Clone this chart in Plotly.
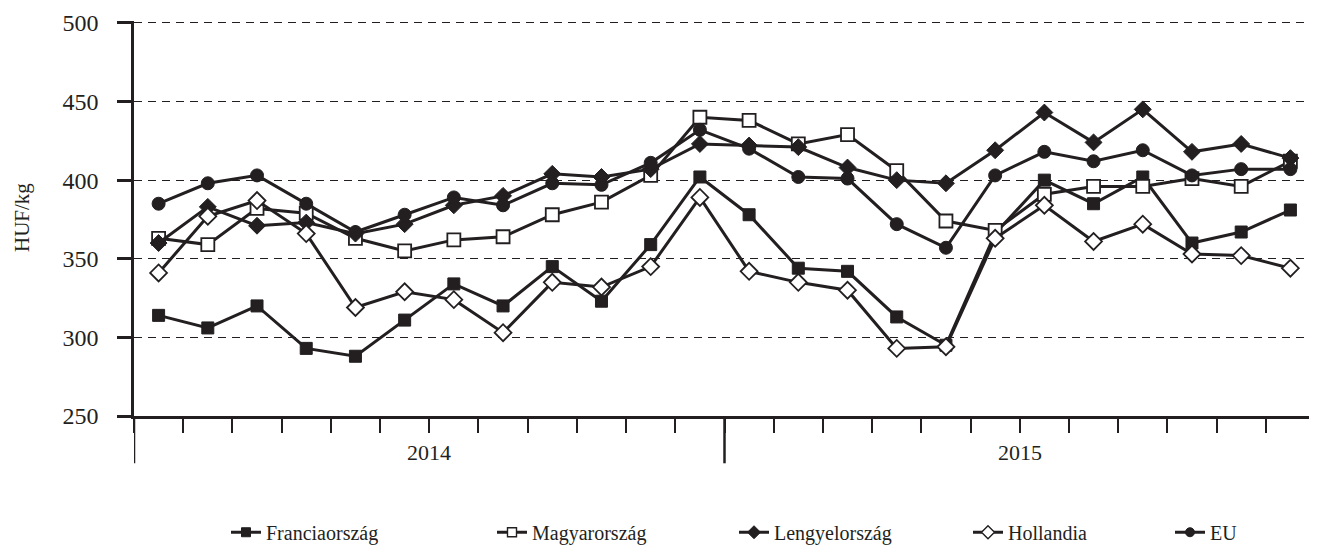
import plotly.graph_objects as go

# ---------------- data ----------------
months = [f"2014-{m:02d}" for m in range(1, 13)] + [f"2015-{m:02d}" for m in range(1, 13)]
years = ["2014", "2015"]

francia = [314, 306, 320, 293, 288, 311, 334, 320, 345, 323, 359, 402,
           378, 344, 342, 313, 295, 366, 400, 385, 402, 360, 367, 381]
magyar = [363, 359, 382, 379, 363, 355, 362, 364, 378, 386, 403, 440,
          438, 423, 429, 406, 374, 368, 391, 396, 396, 401, 396, 412]
lengyel = [360, 383, 371, 373, 366, 372, 384, 390, 404, 402, 407, 423,
           422, 421, 408, 400, 398, 419, 443, 424, 445, 418, 423, 414]
hollandia = [341, 377, 387, 366, 319, 329, 324, 303, 335, 332, 345, 389,
             342, 335, 330, 293, 294, 363, 384, 361, 372, 353, 352, 344]
eu = [385, 398, 403, 385, 367, 378, 389, 384, 398, 397, 411, 432,
      420, 402, 401, 372, 357, 403, 418, 412, 419, 403, 407, 407]

series_names = ["Franciaország", "Magyarország", "Lengyelország", "Hollandia", "EU"]
y_ticks = [250, 300, 350, 400, 450, 500]

# ---------------- style ----------------
DARK = "#231f20"
FONT = "Liberation Serif, Times New Roman, serif"
OFF = 8  # page body margin
W, H = 1317 - OFF, 554 - OFF
L, R, T, B = 134 - OFF, 2, 16 - OFF, 137
PW, PH = W - L - R, H - T - B


def py(page_y):
    """page pixel y -> paper coordinate"""
    return (T + PH - (page_y - OFF)) / PH


def px(page_x):
    return ((page_x - OFF) - L) / PW


xpos = [i + 0.5 for i in range(len(months))]

styles = [
    dict(symbol="square", size=12, color=DARK, line=dict(color=DARK, width=1)),
    dict(symbol="square", size=13, color="white", line=dict(color=DARK, width=1.8)),
    dict(symbol="diamond", size=13, color=DARK, line=dict(color=DARK, width=1)),
    dict(symbol="diamond", size=13, color="white", line=dict(color=DARK, width=1.8)),
    dict(symbol="circle", size=13, color=DARK, line=dict(color=DARK, width=1)),
]
legend_styles = [
    dict(symbol="square", size=9, color=DARK, line=dict(color=DARK, width=1)),
    dict(symbol="square", size=9, color="white", line=dict(color=DARK, width=1.4)),
    dict(symbol="diamond", size=10, color=DARK, line=dict(color=DARK, width=1)),
    dict(symbol="diamond", size=10, color="white", line=dict(color=DARK, width=1.4)),
    dict(symbol="circle", size=9, color=DARK, line=dict(color=DARK, width=1)),
]
all_series = [francia, magyar, lengyel, hollandia, eu]

fig = go.Figure()
for name, vals, st in zip(series_names, all_series, styles):
    fig.add_trace(go.Scatter(
        x=xpos, y=vals, mode="lines+markers", name=name, showlegend=False,
        line=dict(color=DARK, width=3), marker=st, hoverinfo="x+y+name"))

# legend-only entries, each in its own legend box (page x of the symbol centre)
legend_sym_px = [245, 511, 753, 987, 1189]
legend_layout = {}
for k, (name, st, sx) in enumerate(zip(series_names, legend_styles, legend_sym_px)):
    lg = "legend" if k == 0 else f"legend{k+1}"
    fig.add_trace(go.Scatter(
        x=[None], y=[None], mode="lines+markers", name=name, legend=lg,
        line=dict(color=DARK, width=3), marker=st))
    legend_layout[lg] = dict(
        x=px(sx - 19), xanchor="left", y=py(535), yanchor="middle",
        orientation="h", bgcolor="rgba(0,0,0,0)",
        font=dict(family=FONT, size=20, color=DARK))

# long ticks at year boundaries + year labels
shapes = []
for xb in [0, 12, 24]:
    shapes.append(dict(type="line", xref="x", yref="paper", x0=xb, x1=xb,
                       y0=0, y1=py(465), line=dict(color=DARK, width=2.5)))
annotations = []
for i, yr in enumerate(years):
    annotations.append(dict(text=yr, x=6 + 12 * i, xref="x", y=py(454),
                            yref="paper", showarrow=False, yanchor="middle",
                            font=dict(family=FONT, size=22, color=DARK)))
annotations.append(dict(text="HUF/kg", textangle=-90, x=px(22), xref="paper",
                        y=py(216), yref="paper", showarrow=False,
                        xanchor="center", yanchor="middle",
                        font=dict(family=FONT, size=21, color=DARK)))

fig.update_layout(
    width=W, height=H,
    margin=dict(l=L, r=R, t=T, b=B, pad=0),
    plot_bgcolor="white", paper_bgcolor="white",
    font=dict(family=FONT, color=DARK),
    shapes=shapes, annotations=annotations,
    **legend_layout,
    xaxis=dict(range=[0, 24], tickvals=list(range(0, 25)), showticklabels=False,
               ticks="outside", ticklen=14, tickwidth=2, tickcolor=DARK,
               showgrid=False, zeroline=False, showline=True, linecolor=DARK,
               linewidth=2.5),
    yaxis=dict(range=[250, 501.2], tickvals=y_ticks, ticks="outside", ticklen=14,
               tickwidth=2.5, tickcolor=DARK, showline=True, linecolor=DARK,
               linewidth=2.5, zeroline=False, showgrid=True, gridcolor=DARK,
               gridwidth=1, griddash="8px,6px", ticklabelstandoff=14,
               ticklabeloverflow="allow",
               tickfont=dict(family=FONT, size=24, color=DARK)),
)

fig.write_html("out.html")
